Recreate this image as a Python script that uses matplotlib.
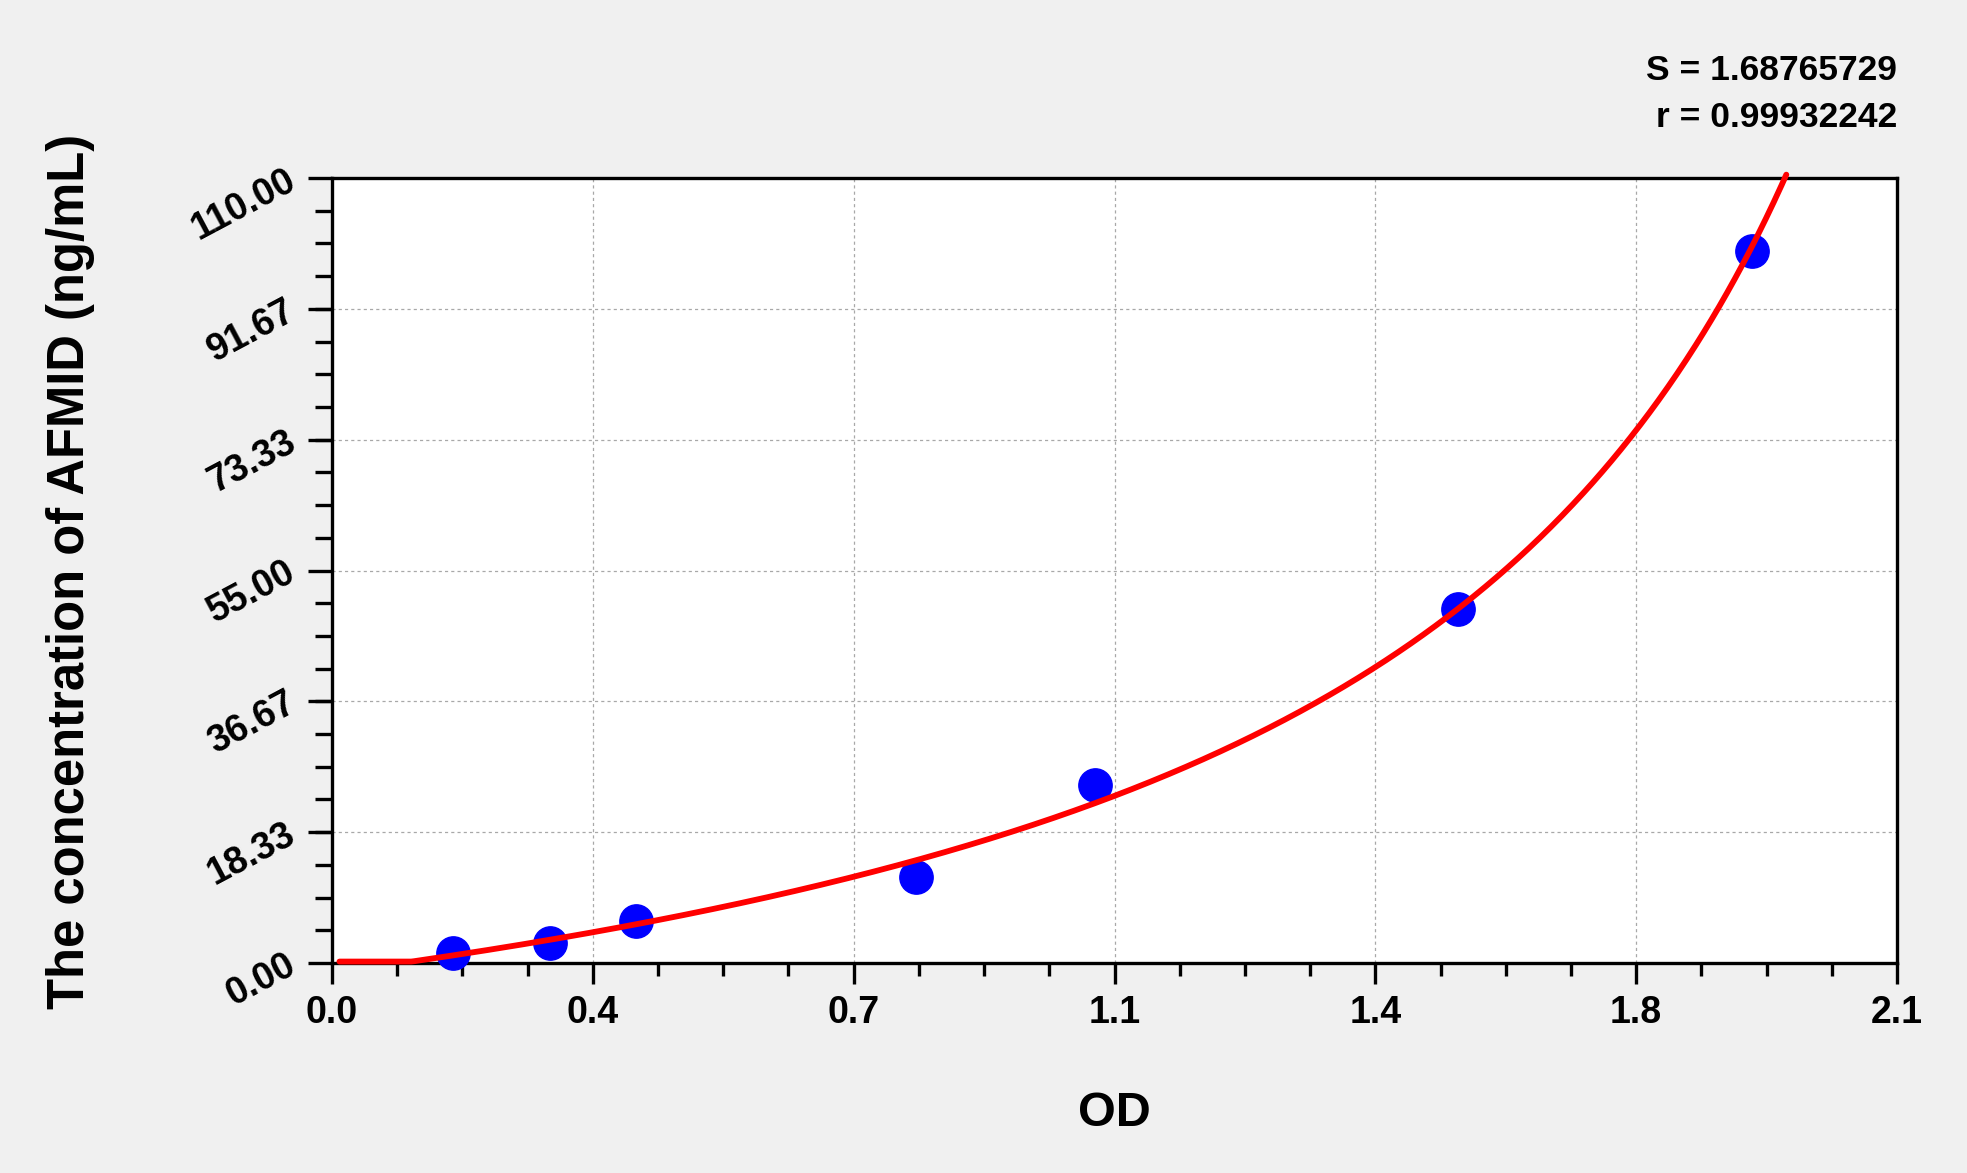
import numpy as np
import matplotlib
matplotlib.use("Agg")
import matplotlib.pyplot as plt
from matplotlib.ticker import FixedLocator, MultipleLocator

# ---- data ----
od_values = [0.163, 0.293, 0.408, 0.783, 1.024, 1.511, 1.906]
conc_values = [1.4, 2.8, 5.9, 12.1, 24.9, 49.6, 99.8]

x_ticks = [0.0, 0.35, 0.70, 1.05, 1.40, 1.75, 2.10]
x_tick_labels = ["0.0", "0.4", "0.7", "1.1", "1.4", "1.8", "2.1"]
y_ticks = [0.0, 18.33, 36.67, 55.0, 73.33, 91.67, 110.0]
y_tick_labels = ["0.00", "18.33", "36.67", "55.00", "73.33", "91.67", "110.00"]

s_text = "S = 1.68765729"
r_text = "r = 0.99932242"
x_label = "OD"
y_label = "The concentration of AFMID (ng/mL)"

# ---- figure ----
W, H = 1967, 1173
fig = plt.figure(figsize=(W / 100, H / 100), dpi=100, facecolor="#F0F0F0")
ax = fig.add_axes([332 / W, 1 - 963 / H, (1897 - 332) / W, (963 - 178) / H])
ax.set_facecolor("white")

bold = dict(family=["Liberation Sans", "DejaVu Sans"], weight="bold")

ax.set_xlim(0, 2.1)
ax.set_ylim(0, 110)

# fitted standard curve: y = c*(x-d)/(a-x), linear least squares on the standards
xo = np.asarray(od_values)
yo = np.asarray(conc_values)
A = np.column_stack([yo, -xo, np.ones_like(xo)])
(a_, c_, e_), *_ = np.linalg.lstsq(A, xo * yo, rcond=None)
d_ = e_ / c_
xs = np.linspace(0.01, 2.1, 1000)
with np.errstate(divide="ignore", invalid="ignore"):
    ys = c_ * (xs - d_) / (a_ - xs)
mask = (xs < a_) & (ys <= 110.6)
ax.plot(xs[mask], np.clip(ys[mask], 0.2, None), color="#FF0000", lw=4.2,
        zorder=4, clip_on=False, solid_capstyle="round")

ax.plot(od_values, conc_values, "o", color="#0000FF", ms=24, mec="#0000FF",
        zorder=3, clip_on=False)

# ticks
ax.xaxis.set_major_locator(FixedLocator(x_ticks))
ax.set_xticklabels(x_tick_labels, fontsize=27, **bold)
ax.xaxis.set_minor_locator(MultipleLocator(0.0875))
ax.yaxis.set_major_locator(FixedLocator(y_ticks))
ax.set_yticklabels(y_tick_labels, fontsize=27, rotation=28, rotation_mode="anchor",
                   ha="right", va="center", **bold)
ax.yaxis.set_minor_locator(MultipleLocator(110 / 24))

ax.tick_params(axis="x", which="major", length=15, width=2.4, direction="out", pad=8, color="black")
ax.tick_params(axis="x", which="minor", length=9.5, width=2.4, direction="out", color="black")
ax.tick_params(axis="y", which="major", length=17, width=2.4, direction="out", pad=11, color="black")
ax.tick_params(axis="y", which="minor", length=12, width=2.4, direction="out", color="black")
ax.tick_params(top=False, right=False, which="both")

for sp in ax.spines.values():
    sp.set_linewidth(2.4)
    sp.set_color("black")

ax.grid(True, which="major", color="#A8A8A8", linestyle=(0, (2.5, 2.5)), linewidth=0.9)
ax.set_axisbelow(True)

# labels
fig.text(1114 / W, 1 - 1113 / H, x_label, ha="center", va="center", fontsize=35, **bold)
fig.text(71 / W, 1 - 571 / H, y_label, ha="center", va="center", rotation=90, fontsize=36.5, **bold)

fig.text(1897 / W, 1 - 80 / H, s_text, ha="right", va="baseline", fontsize=25.5, **bold)
fig.text(1897 / W, 1 - 127 / H, r_text, ha="right", va="baseline", fontsize=25.5, **bold)

fig.savefig("out.png", dpi=100, facecolor=fig.get_facecolor())
